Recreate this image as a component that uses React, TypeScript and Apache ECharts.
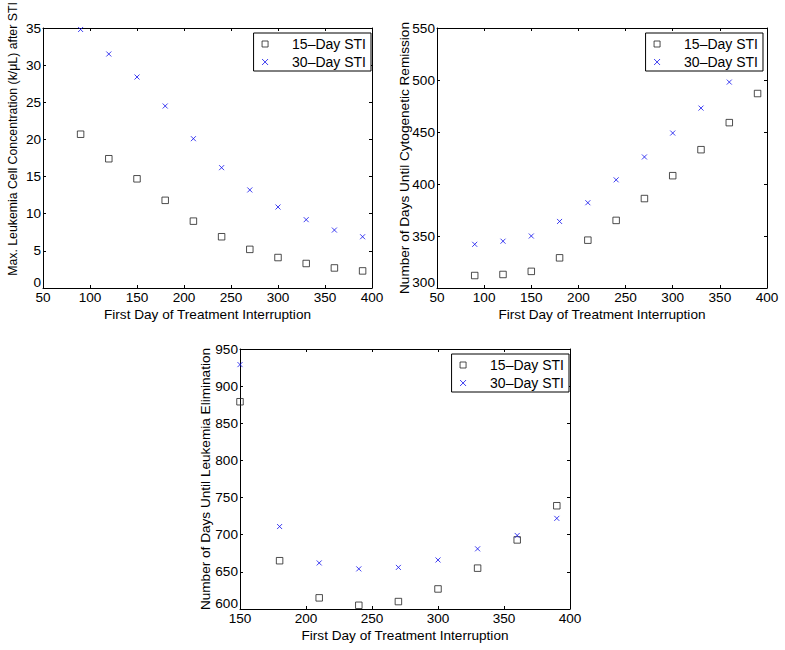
import React, { useEffect, useRef } from "react";
import * as echarts from "echarts";

// ---- data ----
const days12 = [90, 120, 150, 180, 210, 240, 270, 300, 330, 360, 390];
const leukMax15 = [20.7, 17.4, 14.7, 11.8, 9.0, 6.9, 5.2, 4.1, 3.3, 2.7, 2.3];
const leukMax30 = [34.8, 31.5, 28.4, 24.5, 20.1, 16.2, 13.2, 10.9, 9.2, 7.8, 6.9];
const remission15 = [312, 313, 316, 329, 346, 365, 386, 408, 433, 459, 487];
const remissionDays30 = [90, 120, 150, 180, 210, 240, 270, 300, 330, 360];
const remission30 = [342, 345, 350, 364, 382, 404, 426, 449, 473, 498];
const days3 = [150, 180, 210, 240, 270, 300, 330, 360, 390];
const elim15 = [879, 665, 615, 605, 610, 627, 655, 693, 739];
const elim30 = [929, 711, 662, 654, 656, 666, 681, 699, 722];

const NAME15 = "15–Day STI";
const NAME30 = "30–Day STI";
const X_TITLE = "First Day of Treatment Interruption";
const Y_TITLES = [
  "Max. Leukemia Cell Concentration (k/μL) after STI",
  "Number of Days Until Cytogenetic Remission",
  "Number of Days Until Leukemia Elimination",
];
const X_RANGES = [
  [50, 400, 50],
  [50, 400, 50],
  [150, 400, 50],
];
const Y_RANGES = [
  [0, 35, 5],
  [300, 550, 50],
  [600, 950, 50],
];

const FONT = '"Liberation Sans", Arial, Helvetica, sans-serif';
const FS = 13.6;

const pairs = (xs: number[], ys: number[]) => xs.map((x, i) => [x, ys[i]]);

export default function App() {
  const ref = useRef<HTMLDivElement>(null);
  useEffect(() => {
    if (!ref.current) return;
    const chart = echarts.init(ref.current, undefined, { renderer: "svg" });

    const grids = [
      { left: 43, top: 28, width: 329, height: 260 },
      { left: 437, top: 28, width: 330, height: 260 },
      { left: 240, top: 349, width: 330, height: 260 },
    ];
    const yNamePos = [
      [13, 139, 12.3],
      [404, 158, FS],
      [205, 479, FS],
    ];
    const legendPos = [
      { right: 414, top: 33 },
      { right: 22, top: 33 },
      { right: 216, top: 354 },
    ];

    const axisLine = { show: true, onZero: false, lineStyle: { color: "#000", width: 1 } };
    const axisTick = { show: true, inside: true, length: 3, lineStyle: { color: "#000", width: 1 } };
    const labelText = { color: "#000", fontSize: FS, fontFamily: FONT };

    const xAxes: any[] = [];
    const yAxes: any[] = [];
    for (let pass = 0; pass < 2; pass++) {
      for (let g = 0; g < 3; g++) {
        const [xmin, xmax, xint] = X_RANGES[g];
        const [ymin, ymax, yint] = Y_RANGES[g];
        xAxes.push({
          type: "value",
          gridIndex: g,
          position: pass === 0 ? "bottom" : "top",
          min: xmin,
          max: xmax,
          interval: xint,
          name: pass === 0 ? X_TITLE : "",
          nameLocation: "middle",
          nameGap: 19,
          nameTextStyle: labelText,
          axisLine,
          axisTick,
          splitLine: { show: false },
          axisLabel: {
            show: pass === 0,
            margin: 2,
            ...labelText,
            showMinLabel: true,
            showMaxLabel: true,
          },
        });
        yAxes.push({
          type: "value",
          gridIndex: g,
          position: pass === 0 ? "left" : "right",
          min: ymin,
          max: ymax,
          interval: yint,
          axisLine,
          axisTick,
          splitLine: { show: false },
          axisLabel: {
            show: pass === 0,
            margin: 2,
            ...labelText,
            showMinLabel: true,
            showMaxLabel: true,
            formatter: (v: number) => (v === ymin ? `{lo|${v}}` : `${v}`),
            rich: { lo: { ...labelText, padding: [0, 0, 11, 0] } },
          },
        });
      }
    }

    const sq = {
      symbol: "path://M0,0L10,0L10,10L0,10Z",
      symbolSize: 6.5,
      itemStyle: { color: "rgba(0,0,0,0)", borderColor: "#222", borderWidth: 1 },
    };
    const cross = {
      symbol: "path://M0,0L10,10M10,0L0,10",
      symbolSize: 5,
      itemStyle: { color: "none", borderColor: "#1010ee", borderWidth: 1 },
    };

    const seriesData = [
      [pairs(days12, leukMax15), pairs(days12, leukMax30)],
      [pairs(days12, remission15), pairs(remissionDays30, remission30)],
      [pairs(days3, elim15), pairs(days3, elim30)],
    ];
    const series: any[] = [];
    for (let g = 0; g < 3; g++) {
      series.push({
        type: "scatter",
        name: NAME15,
        xAxisIndex: g,
        yAxisIndex: g,
        data: seriesData[g][0],
        ...sq,
      });
      series.push({
        type: "scatter",
        name: NAME30,
        xAxisIndex: g,
        yAxisIndex: g,
        data: seriesData[g][1],
        ...cross,
      });
    }

    const legends = legendPos.map((p) => ({
      ...p,
      orient: "vertical",
      data: [NAME15, NAME30],
      itemWidth: 44,
      itemHeight: 6,
      itemGap: 4,
      padding: [4, 5, 2, 6],
      borderColor: "#000",
      borderWidth: 1,
      backgroundColor: "#fff",
      symbolKeepAspect: true,
      selectedMode: false,
      itemStyle: { borderWidth: 1 },
      textStyle: { color: "#000", fontSize: 14, fontFamily: FONT },
    }));

    const graphic = Y_TITLES.map((t, i) => ({
      type: "text",
      x: yNamePos[i][0],
      y: yNamePos[i][1],
      rotation: Math.PI / 2,
      style: {
        text: t,
        fill: "#000",
        fontSize: yNamePos[i][2],
        fontFamily: FONT,
        align: "center",
        verticalAlign: "middle",
        textAlign: "center",
        textVerticalAlign: "middle",
      },
    }));

    chart.setOption({
      animation: false,
      backgroundColor: "#fff",
      textStyle: { fontFamily: FONT },
      grid: grids,
      xAxis: xAxes,
      yAxis: yAxes,
      legend: legends,
      graphic,
      series,
    });
    return () => chart.dispose();
  }, []);
  return (
    <div
      ref={ref}
      style={{ position: "fixed", left: 0, top: 0, width: 785, height: 650 }}
    />
  );
}
